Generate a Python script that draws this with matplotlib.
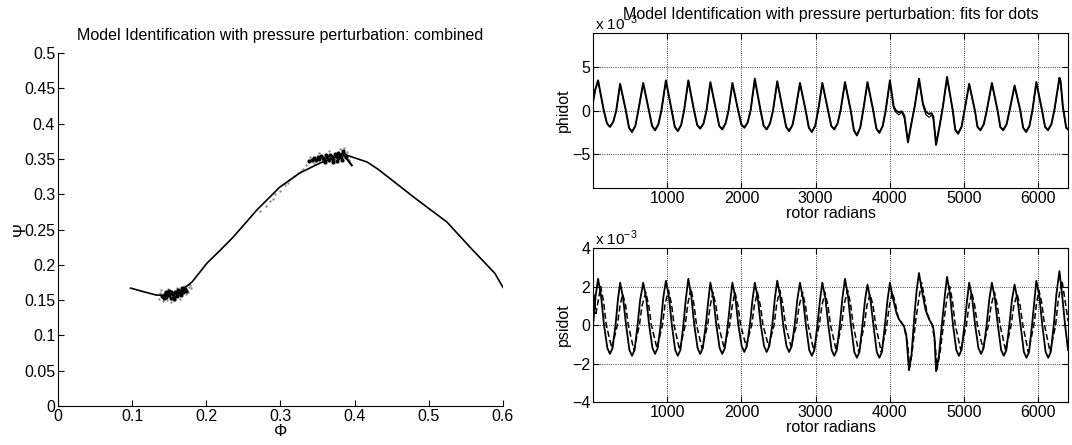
import matplotlib
matplotlib.use("Agg")
import matplotlib.pyplot as plt

plt.rcParams['font.family'] = ['Liberation Sans', 'DejaVu Sans']
plt.rcParams['font.size'] = 11.5
plt.rcParams['mathtext.fontset'] = 'custom'
plt.rcParams['mathtext.rm'] = 'Liberation Sans'

# ---- left panel: compressor characteristic (Phi, Psi) ----
phi_curve = [0.098, 0.115, 0.133, 0.151, 0.166, 0.181, 0.201, 0.220, 0.236, 0.256,
             0.268, 0.299, 0.326, 0.353, 0.380, 0.384, 0.390, 0.417, 0.432, 0.482,
             0.5245, 0.5555, 0.589, 0.600]
psi_curve = [0.167, 0.162, 0.157, 0.157, 0.163, 0.176, 0.2025, 0.222, 0.239, 0.263,
             0.2775, 0.310, 0.330, 0.344, 0.355, 0.358, 0.355, 0.3455, 0.335, 0.294,
             0.2605, 0.225, 0.188, 0.168]
phi_spur = [0.384, 0.396]
psi_spur = [0.358, 0.341]

# measured operating points (dark core and lighter scatter)
dots_phi = [0.140, 0.144, 0.146, 0.148, 0.150, 0.152, 0.153, 0.155, 0.157, 0.158,
            0.160, 0.161, 0.163, 0.164, 0.166, 0.168, 0.169, 0.171, 0.173, 0.150,
            0.145, 0.156, 0.162, 0.167, 0.143,
            0.338, 0.342, 0.345, 0.348, 0.350, 0.352, 0.355, 0.357, 0.359, 0.361,
            0.363, 0.365, 0.367, 0.369, 0.371, 0.373, 0.375, 0.377, 0.378, 0.380,
            0.382, 0.384, 0.383, 0.386, 0.388, 0.371, 0.360, 0.376]
dots_psi = [0.156, 0.158, 0.154, 0.160, 0.157, 0.153, 0.161, 0.158, 0.155, 0.162,
            0.159, 0.156, 0.163, 0.160, 0.157, 0.164, 0.161, 0.166, 0.163, 0.163,
            0.161, 0.152, 0.165, 0.167, 0.153,
            0.347, 0.349, 0.351, 0.348, 0.353, 0.350, 0.354, 0.351, 0.348, 0.355,
            0.352, 0.349, 0.356, 0.353, 0.350, 0.357, 0.354, 0.351, 0.359, 0.356,
            0.353, 0.361, 0.349, 0.357, 0.352, 0.346, 0.345, 0.347]
halo_phi = [0.136, 0.138, 0.141, 0.147, 0.152, 0.158, 0.165, 0.172, 0.176, 0.178,
            0.175, 0.170, 0.160, 0.148, 0.139, 0.180,
            0.272, 0.280, 0.286, 0.293, 0.300, 0.306, 0.312, 0.318, 0.324, 0.330,
            0.335, 0.290, 0.310, 0.328, 0.345, 0.352, 0.366, 0.380, 0.386, 0.390,
            0.392, 0.340]
halo_psi = [0.152, 0.160, 0.149, 0.150, 0.148, 0.150, 0.152, 0.158, 0.168, 0.172,
            0.162, 0.170, 0.167, 0.166, 0.164, 0.167,
            0.276, 0.284, 0.291, 0.300, 0.305, 0.313, 0.320, 0.326, 0.330, 0.336,
            0.341, 0.293, 0.316, 0.333, 0.344, 0.358, 0.361, 0.364, 0.365, 0.360,
            0.349, 0.353]

# ---- right panels: time histories (values in units of 1e-3) ----
phidot_x = [0, 30, 68,
            145, 188, 228, 273, 313, 365,
            442, 485, 525, 570, 610, 676,
            753, 796, 836, 881, 921, 982,
            1059, 1102, 1142, 1187, 1227, 1284,
            1361, 1404, 1444, 1489, 1529, 1581,
            1658, 1701, 1741, 1786, 1826, 1878,
            1955, 1998, 2038, 2083, 2123, 2180,
            2257, 2300, 2340, 2385, 2425, 2482,
            2559, 2602, 2642, 2687, 2727, 2788,
            2865, 2908, 2948, 2993, 3033, 3090,
            3167, 3210, 3250, 3295, 3335, 3395,
            3472, 3515, 3555, 3600, 3640, 3698,
            3775, 3818, 3858, 3903, 3943, 4000,
            4050, 4080, 4120, 4160, 4195, 4243, 4290, 4335, 4392,
            4445, 4486, 4530, 4560, 4585, 4622, 4670, 4715, 4770,
            4847, 4880, 4919, 4965, 5005, 5068,
            5145, 5180, 5220, 5265, 5305, 5374,
            5451, 5487, 5527, 5572, 5612, 5680,
            5757, 5795, 5835, 5880, 5920, 5973,
            6050, 6090, 6130, 6175, 6215, 6284,
            6300, 6330, 6375, 6400]
phidot_y = [1.0, 2.4, 3.5,
            0, -1.5, -1.9, -1.3, 0, 3.1,
            0, -2.0, -2.5, -1.8, 0, 3.2,
            0, -1.8, -2.3, -1.6, 0, 3.5,
            0, -1.9, -2.4, -1.7, 0, 3.5,
            0, -1.7, -2.1, -1.5, 0, 3.3,
            0, -1.8, -2.2, -1.5, 0, 3.2,
            0, -1.6, -2.0, -1.4, 0, 3.7,
            0, -1.8, -2.2, -1.5, 0, 3.4,
            0, -1.9, -2.4, -1.7, 0, 3.2,
            0, -2.0, -2.5, -1.8, 0, 3.2,
            0, -1.8, -2.2, -1.5, 0, 3.3,
            0, -2.3, -2.9, -2.0, 0, 3.3,
            0, -2.1, -2.6, -1.8, 0, 3.5,
            0.5, 0.0, -0.2, -0.1, -0.6, -3.7, -1.5, 0.5, 3.7,
            0.8, -0.2, -0.4, -0.3, -0.7, -4.0, -1.8, 0.5, 3.9,
            0, -2.2, -2.7, -1.9, 0, 3.1,
            0, -1.9, -2.3, -1.6, 0, 3.2,
            0, -1.9, -2.3, -1.6, 0, 2.9,
            0, -2.0, -2.5, -1.8, 0, 3.3,
            0, -1.9, -2.3, -1.6, 0, 3.8,
            3.4, 0.5, -2.0, -2.2]
phidot_fit_y = [1.1, 2.5, 3.4,
                0, -1.5, -1.9, -1.3, 0, 3.0,
                0, -2.0, -2.4, -1.8, 0, 3.1,
                0, -1.8, -2.2, -1.6, 0, 3.4,
                0, -1.9, -2.3, -1.7, 0, 3.4,
                0, -1.7, -2.1, -1.5, 0, 3.2,
                0, -1.8, -2.1, -1.5, 0, 3.1,
                0, -1.6, -2.0, -1.4, 0, 3.5,
                0, -1.8, -2.1, -1.5, 0, 3.3,
                0, -1.9, -2.3, -1.7, 0, 3.1,
                0, -2.0, -2.4, -1.8, 0, 3.1,
                0, -1.8, -2.1, -1.5, 0, 3.2,
                0, -2.3, -2.8, -2.0, 0, 3.2,
                0, -2.1, -2.5, -1.8, 0, 3.3,
                0.3, -0.2, -0.5, -0.2, -0.9, -3.5, -1.4, 0.6, 3.5,
                0.6, -0.5, -0.8, -0.5, -1.0, -3.8, -1.7, 0.6, 3.7,
                0, -2.2, -2.6, -1.9, 0, 3.0,
                0, -1.9, -2.2, -1.6, 0, 3.1,
                0, -1.9, -2.2, -1.6, 0, 2.8,
                0, -2.0, -2.4, -1.8, 0, 3.2,
                0, -1.9, -2.2, -1.6, 0, 3.6,
                3.2, 0.4, -2.0, -2.1]

psidot_x = [0, 35, 68,
            108, 148, 193, 228, 263, 303, 335, 365,
            405, 445, 490, 525, 560, 600, 635, 676,
            716, 756, 801, 836, 871, 911, 946, 982,
            1022, 1062, 1107, 1142, 1177, 1217, 1252, 1284,
            1324, 1364, 1409, 1444, 1479, 1519, 1554, 1581,
            1621, 1661, 1706, 1741, 1776, 1816, 1851, 1878,
            1918, 1958, 2003, 2038, 2073, 2113, 2148, 2180,
            2220, 2260, 2305, 2340, 2375, 2415, 2450, 2482,
            2522, 2562, 2607, 2642, 2677, 2717, 2752, 2788,
            2828, 2868, 2913, 2948, 2983, 3023, 3058, 3090,
            3130, 3170, 3215, 3250, 3285, 3325, 3360, 3395,
            3435, 3475, 3520, 3555, 3590, 3630, 3665, 3698,
            3738, 3778, 3823, 3858, 3893, 3933, 3968, 4000,
            4040, 4090, 4122, 4189, 4220, 4257, 4290, 4330, 4360, 4392,
            4430, 4480, 4527, 4580, 4600, 4622, 4660, 4710, 4745, 4770,
            4810, 4850, 4895, 4930, 4965, 5005, 5040, 5068,
            5108, 5148, 5193, 5228, 5263, 5303, 5338, 5374,
            5414, 5454, 5499, 5534, 5569, 5609, 5644, 5680,
            5720, 5760, 5805, 5840, 5875, 5915, 5950, 5973,
            6013, 6053, 6098, 6133, 6168, 6208, 6243, 6284,
            6320, 6360, 6400]
psidot_y = [0.0, 1.5, 2.4,
            1.5, 0, -1.2, -1.5, -1.2, 0, 1.3, 2.2,
            1.4, 0, -1.3, -1.6, -1.3, 0, 1.3, 2.2,
            1.4, 0, -1.2, -1.5, -1.2, 0, 1.4, 2.3,
            1.5, 0, -1.3, -1.6, -1.3, 0, 1.4, 2.4,
            1.5, 0, -1.2, -1.5, -1.2, 0, 1.3, 2.2,
            1.4, 0, -1.2, -1.5, -1.2, 0, 1.3, 2.2,
            1.4, 0, -1.1, -1.4, -1.1, 0, 1.3, 2.2,
            1.4, 0, -1.1, -1.4, -1.1, 0, 1.4, 2.3,
            1.5, 0, -1.1, -1.4, -1.1, 0, 1.3, 2.2,
            1.4, 0, -1.3, -1.6, -1.3, 0, 1.3, 2.2,
            1.4, 0, -1.3, -1.6, -1.3, 0, 1.4, 2.4,
            1.5, 0, -1.4, -1.7, -1.4, 0, 1.3, 2.1,
            1.3, 0, -1.4, -1.7, -1.4, 0, 1.3, 2.2,
            1.4, 0.6, 0.3, -0.05, -0.5, -2.35, -1.6, 0.5, 1.8, 2.7,
            1.8, 0.8, 0.3, -0.05, -0.6, -2.4, -1.6, 0.4, 1.7, 2.5,
            1.6, 0, -1.3, -1.6, -1.3, 0, 1.3, 2.2,
            1.4, 0, -1.2, -1.5, -1.2, 0, 1.3, 2.2,
            1.4, 0, -1.3, -1.6, -1.3, 0, 1.3, 2.1,
            1.3, 0, -1.4, -1.7, -1.4, 0, 1.4, 2.3,
            1.5, 0, -1.4, -1.7, -1.4, 0, 1.6, 2.8,
            1.6, 0, -1.3]

psidot_fit_x = [0, 12, 40, 103,
                143, 178, 253, 328, 363, 400,
                440, 475, 550, 625, 660, 711,
                751, 786, 861, 936, 971, 1017,
                1057, 1092, 1167, 1242, 1277, 1319,
                1359, 1394, 1469, 1544, 1579, 1616,
                1656, 1691, 1766, 1841, 1876, 1913,
                1953, 1988, 2063, 2138, 2173, 2215,
                2255, 2290, 2365, 2440, 2475, 2517,
                2557, 2592, 2667, 2742, 2777, 2823,
                2863, 2898, 2973, 3048, 3083, 3125,
                3165, 3200, 3275, 3350, 3385, 3430,
                3470, 3505, 3580, 3655, 3690, 3733,
                3773, 3808, 3883, 3958, 3993, 4035,
                4075, 4110, 4190, 4240, 4265, 4300, 4350, 4395, 4427,
                4467, 4500, 4570, 4610, 4635, 4680, 4730, 4770, 4805,
                4845, 4880, 4955, 5030, 5065, 5103,
                5143, 5178, 5253, 5328, 5363, 5409,
                5449, 5484, 5559, 5634, 5669, 5715,
                5755, 5790, 5865, 5940, 5975, 6008,
                6048, 6083, 6158, 6233, 6268, 6319,
                6359, 6400]
psidot_fit_y = [-0.3, 1.6, 0.6, 2.0,
                1.2, 0, -1.2, 0, 1.0, 1.6,
                1.0, 0, -1.3, 0, 1.0, 1.7,
                1.0, 0, -1.2, 0, 1.1, 1.8,
                1.1, 0, -1.3, 0, 1.1, 1.9,
                1.1, 0, -1.2, 0, 1.0, 1.7,
                1.0, 0, -1.2, 0, 1.0, 1.7,
                1.0, 0, -1.1, 0, 1.0, 1.7,
                1.0, 0, -1.1, 0, 1.1, 1.8,
                1.1, 0, -1.1, 0, 1.0, 1.7,
                1.0, 0, -1.3, 0, 1.0, 1.7,
                1.0, 0, -1.3, 0, 1.1, 1.8,
                1.1, 0, -1.4, 0, 1.0, 1.6,
                1.0, 0, -1.4, 0, 1.0, 1.7,
                1.1, 0.4, -0.1, -1.0, -2.2, -1.4, 0.3, 1.5, 2.2,
                1.4, 0.6, 0.0, -1.0, -2.3, -1.3, 0.3, 1.4, 2.0,
                1.2, 0, -1.3, 0, 1.0, 1.7,
                1.0, 0, -1.2, 0, 1.0, 1.7,
                1.0, 0, -1.3, 0, 1.0, 1.6,
                1.0, 0, -1.4, 0, 1.1, 1.8,
                1.1, 0, -1.4, 0, 1.3, 2.3,
                1.3, 0.2]

xticks_t = [1000, 2000, 3000, 4000, 5000, 6000]

fig = plt.figure(figsize=(10.72, 4.45), dpi=100)

# left axes
ax0 = fig.add_axes([0.0541, 0.0876, 0.4151, 0.7933])
ax0.scatter(halo_phi, halo_psi, s=3, c='0.55', linewidths=0)
ax0.scatter(dots_phi, dots_psi, s=9, c='k', linewidths=0)
ax0.plot(phi_curve, psi_curve, 'k-', lw=1.2)
ax0.plot(phi_spur, psi_spur, 'k-', lw=1.6)
ax0.set_xlim(0, 0.6)
ax0.set_ylim(0, 0.5)
ax0.set_xticks([0, 0.1, 0.2, 0.3, 0.4, 0.5, 0.6])
ax0.set_xticklabels(['0', '0.1', '0.2', '0.3', '0.4', '0.5', '0.6'])
ax0.set_yticks([0, 0.05, 0.1, 0.15, 0.2, 0.25, 0.3, 0.35, 0.4, 0.45, 0.5])
ax0.set_yticklabels(['0', '0.05', '0.1', '0.15', '0.2', '0.25', '0.3', '0.35', '0.4', '0.45', '0.5'])
ax0.spines['top'].set_visible(False)
ax0.spines['right'].set_visible(False)
ax0.tick_params(direction='in', length=4, labelsize=11.5, pad=2)
ax0.set_xlabel('Φ', fontsize=12, labelpad=0)
ax0.set_ylabel('Ψ', fontsize=12, labelpad=-3)
ax0.set_title('Model Identification with pressure perturbation: combined', fontsize=11.5, pad=9)

# right top axes
ax1 = fig.add_axes([0.5532, 0.5775, 0.4431, 0.3483])
ax1.plot(phidot_x, phidot_fit_y, 'k-', lw=0.8)
ax1.plot(phidot_x, phidot_y, 'k-', lw=1.4)
ax1.set_xlim(0, 6400)
ax1.set_ylim(-9, 9)
ax1.set_xticks(xticks_t)
ax1.set_yticks([-5, 0, 5])
ax1.set_yticklabels(['\u22125', '0', '5'])
ax1.grid(True, linestyle=':', color='k', lw=0.6)
ax1.tick_params(direction='in', length=4, labelsize=11.5, top=True, right=True, pad=2)
ax1.set_xlabel('rotor radians', fontsize=11.5, labelpad=0)
ax1.set_ylabel('phidot', fontsize=11.5, labelpad=1)
ax1.text(0.005, 1.02, 'x 10$^{-3}$', transform=ax1.transAxes, fontsize=11)
ax1.set_title('Model Identification with pressure perturbation: fits for dots', fontsize=11.5, pad=10)

# right bottom axes
ax2 = fig.add_axes([0.5532, 0.0966, 0.4431, 0.3461])
ax2.plot(psidot_fit_x, psidot_fit_y, color='k', lw=1.1, linestyle=(0, (4, 2)))
ax2.plot(psidot_x, psidot_y, 'k-', lw=1.3)
ax2.set_xlim(0, 6400)
ax2.set_ylim(-4, 4)
ax2.set_xticks(xticks_t)
ax2.set_yticks([-4, -2, 0, 2, 4])
ax2.set_yticklabels(['\u22124', '\u22122', '0', '2', '4'])
ax2.grid(True, linestyle=':', color='k', lw=0.6)
ax2.tick_params(direction='in', length=4, labelsize=11.5, top=True, right=True, pad=2)
ax2.set_xlabel('rotor radians', fontsize=11.5, labelpad=0)
ax2.set_ylabel('psidot', fontsize=11.5, labelpad=1)
ax2.text(0.005, 1.02, 'x 10$^{-3}$', transform=ax2.transAxes, fontsize=11)

fig.savefig('out.png', dpi=100)
